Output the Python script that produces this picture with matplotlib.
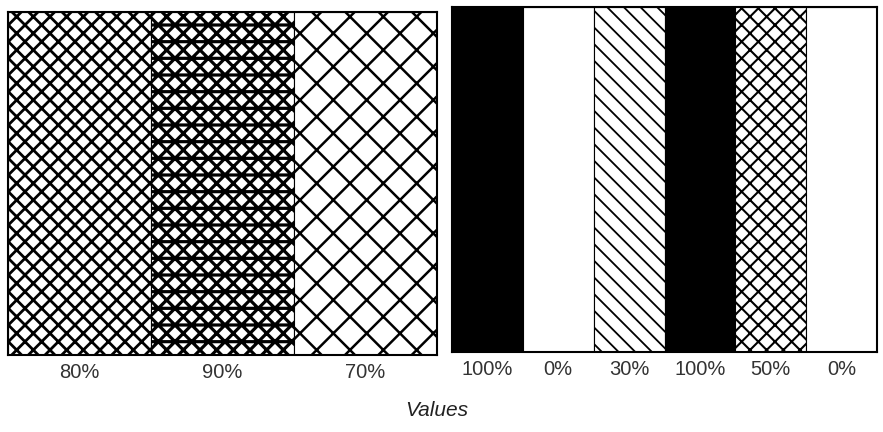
import matplotlib.pyplot as plt

plt.rcParams['font.family'] = ['Liberation Sans', 'DejaVu Sans']

# left panel: fill patterns
left_labels = ["80%", "90%", "70%"]
left_heights = [1, 1, 1]
left_hatch = ["xx", "xx-", "x"]
left_hlw = [2.0, 2.3, 1.8]

# right panel: fill patterns
right_labels = ["100%", "0%", "30%", "100%", "50%", "0%"]
right_heights = [1, 1, 1, 1, 1, 1]
right_face = ["black", "white", "white", "black", "white", "white"]
right_hatch = [None, None, "\\\\", None, "xx", None]
right_hlw = [1.0, 1.0, 1.3, 1.0, 1.5, 1.0]

fig = plt.figure(figsize=(8.83, 4.32), dpi=100)
ax1 = fig.add_axes([8 / 883, 1 - 355 / 432, 429 / 883, 343 / 432])
ax2 = fig.add_axes([452 / 883, 1 - 352 / 432, 425 / 883, 345 / 432])


def draw_panel(ax, labels, heights, faces, hatches, hlws):
    xs = list(range(len(labels)))
    for x, h, fc, ht, lw in zip(xs, heights, faces, hatches, hlws):
        plt.rcParams['hatch.linewidth'] = lw
        bar = ax.bar(x, h, width=1.0, color=fc, edgecolor="black",
                     linewidth=0.8, hatch=ht)[0]
        if hasattr(bar, "set_hatch_linewidth"):
            bar.set_hatch_linewidth(lw)
    ax.set_xlim(-0.5, len(labels) - 0.5)
    ax.set_ylim(0, 1)
    ax.set_yticks([])
    ax.set_xticks(xs)
    ax.set_xticklabels(labels, fontsize=14.5, color="#333333")
    ax.tick_params(axis="x", length=0, pad=6)
    for s in ax.spines.values():
        s.set_linewidth(1.5)
        s.set_color("black")


draw_panel(ax1, left_labels, left_heights, ["white"] * 3, left_hatch, left_hlw)
draw_panel(ax2, right_labels, right_heights, right_face, right_hatch, right_hlw)

fig.text(437 / 883, 1 - 410 / 432, "Values", fontsize=15, style="italic",
         color="#222222", ha="center", va="center")

fig.savefig("out.png", dpi=100)
